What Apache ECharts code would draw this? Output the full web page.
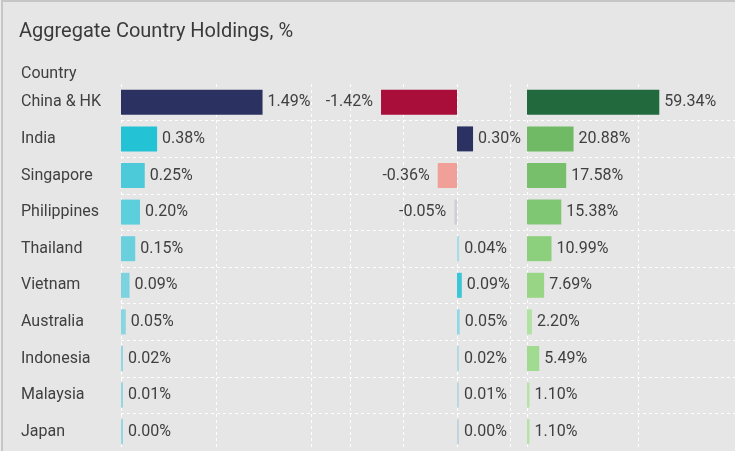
<!DOCTYPE html>
<html>
<head>
<meta charset="utf-8">
<script src="https://cdn.jsdelivr.net/npm/echarts@6/dist/echarts.min.js"></script>
<style>
  html, body { margin: 0; padding: 0; width: 735px; height: 451px; overflow: hidden; background: #ececec; }
  #frame {
    position: absolute; left: 1px; top: 0; width: 734px; height: 451px;
    box-sizing: border-box; background: #e6e6e6;
    border-top: 2px solid #c6c6c6; border-left: 2px solid #c6c6c6;
  }
  #chart { position: absolute; left: 0; top: 0; width: 735px; height: 451px; }
</style>
</head>
<body>
<div id="frame"></div>
<div id="chart"></div>
<script>
// Countries, top to bottom
const countries = ['China & HK', 'India', 'Singapore', 'Philippines', 'Thailand',
                   'Vietnam', 'Australia', 'Indonesia', 'Malaysia', 'Japan'];

// Three measures per country (percent)
const holdingsA = [1.49, 0.38, 0.25, 0.20, 0.15, 0.09, 0.05, 0.02, 0.01, 0.00];
const holdingsB = [-1.42, 0.30, -0.36, -0.05, 0.04, 0.09, 0.05, 0.02, 0.01, 0.00];
const holdingsC = [59.34, 20.88, 17.58, 15.38, 10.99, 7.69, 2.20, 5.49, 1.10, 1.10];

// Axis ranges and gridline steps for each panel (the last panel runs off the right edge)
const rangeA = [0, 2];
const rangeB = [-2, 1];
const rangeC = [0, 93.3];
const stepA = 1;
const stepB = 1;
const stepC = 50;

// Bar fill colours, one per country
const colorsA = ['#2b3160', '#23c2d4', '#4dcad9', '#5dcedc', '#6bd0de', '#7cd3df',
                 '#89d5e1', '#92d7e3', '#92d7e3', '#92d7e3'];
const colorsB = ['#a90d3a', '#2b3160', '#f0a098', '#cfd0d6', '#a7dde6', '#3ac6d6',
                 '#90d8e4', '#b2dbe2', '#bad8df', '#c4d4dc'];
const colorsC = ['#226a3e', '#70b965', '#78bf6b', '#80c774', '#8ccf7c', '#98d686',
                 '#b0e2a2', '#a1da91', '#b4e3a6', '#b4e3a6'];

const FONT = 'Roboto';
const TEXT = '#404040';
const GRID_TOP = 84;
const GRID_H = 366;

const panels = [
  { left: 121, width: 190, range: rangeA, step: stepA, values: holdingsA, colors: colorsA, maxLine: true },
  { left: 350, width: 160.5, range: rangeB, step: stepB, values: holdingsB, colors: colorsB, maxLine: true },
  { left: 527, width: 208, range: rangeC, step: stepC, values: holdingsC, colors: colorsC, maxLine: false }
];

const dashed = { color: '#ffffff', width: 1, type: [3, 3] };

const grid = panels.map(p => ({ left: p.left, top: GRID_TOP, width: p.width, height: GRID_H }));
// extra grid that only carries the horizontal row separators across all panels
grid.push({ left: 121, top: GRID_TOP, right: 0, height: GRID_H });

const xAxis = panels.map((p, i) => ({
  type: 'value', gridIndex: i, min: p.range[0], max: p.range[1], interval: p.step,
  axisLabel: { show: false }, axisLine: { show: false }, axisTick: { show: false },
  splitLine: { show: true, showMaxLine: p.maxLine, lineStyle: dashed }
}));
xAxis.push({ type: 'value', gridIndex: 3, min: 0, max: 1, show: false });

const yAxis = panels.map((p, i) => ({
  type: 'category', gridIndex: i, data: countries, inverse: true,
  axisLine: { show: false }, axisTick: { show: false }, splitLine: { show: false },
  axisLabel: i === 0 ? {
    show: true, align: 'left', margin: 100, color: TEXT, fontFamily: FONT, fontSize: 16
  } : { show: false }
}));
yAxis.push({
  type: 'category', gridIndex: 3, data: countries, inverse: true,
  axisLine: { show: false }, axisTick: { show: false }, axisLabel: { show: false },
  splitLine: { show: true, showMinLine: false, showMaxLine: false, lineStyle: dashed }
});

const series = panels.map((p, i) => ({
  type: 'bar', xAxisIndex: i, yAxisIndex: i, barWidth: 25, barMinHeight: 2,
  data: p.values.map((v, k) => ({
    value: v,
    itemStyle: { color: p.colors[k] },
    label: { position: v < 0 ? 'left' : 'right', distance: v < 0 ? 8 : 5 }
  })),
  label: {
    show: true, color: TEXT, fontFamily: FONT, fontSize: 16,
    formatter: d => d.value.toFixed(2) + '%'
  },
  silent: true, animation: false
}));

const chart = echarts.init(document.getElementById('chart'), null, { renderer: 'canvas' });
chart.setOption({
  backgroundColor: 'transparent',
  animation: false,
  title: [
    { text: 'Aggregate Country Holdings, %', left: 14, top: 17,
      textStyle: { fontFamily: FONT, fontSize: 20, fontWeight: 'normal', color: '#3a3a3a' } },
    { text: 'Country', left: 16, top: 61,
      textStyle: { fontFamily: FONT, fontSize: 16, fontWeight: 'normal', color: TEXT } }
  ],
  grid, xAxis, yAxis, series
});
</script>
</body>
</html>
